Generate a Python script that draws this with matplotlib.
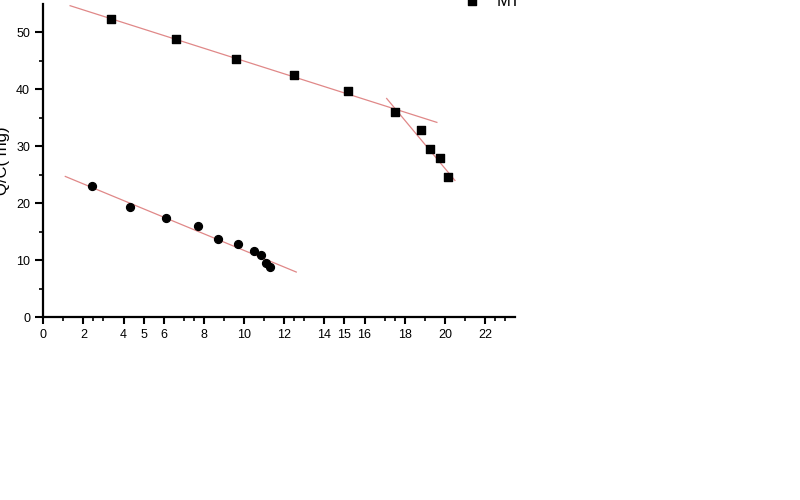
import matplotlib.pyplot as plt
import numpy as np

# MT series (squares)
mt_x = [3.38, 6.62, 9.6, 12.49, 15.17, 17.5, 18.8, 19.25, 19.75, 20.15]
mt_y = [52.3, 48.9, 45.4, 42.6, 39.8, 36.0, 32.8, 29.6, 27.9, 24.6]

# second series (circles)
c_x = [2.44, 4.33, 6.12, 7.71, 8.71, 9.70, 10.5, 10.85, 11.1, 11.3]
c_y = [23.0, 19.3, 17.4, 16.0, 13.7, 12.8, 11.6, 10.9, 9.5, 8.8]

# fitted lines (end points)
fit1_x = [1.34, 19.6]
fit1_y = [54.7, 34.2]
fit2_x = [17.1, 20.5]
fit2_y = [38.4, 24.0]
fit3_x = [1.1, 12.6]
fit3_y = [24.7, 7.9]

xticks = [0, 2, 4, 5, 6, 8, 10, 12, 14, 15, 16, 18, 20, 22]
xminor = [1, 2.5, 3, 7, 7.5, 9, 11, 12.5, 13, 17, 17.5, 19, 21, 22.5, 23]
yticks = [0, 10, 20, 30, 40, 50]
yminor = [5, 15, 25, 35, 45]

plt.rcParams['font.family'] = ['Liberation Sans', 'DejaVu Sans']

fig = plt.figure(figsize=(8, 5), dpi=100)
ax = fig.add_axes([0.054, 0.366, 0.59, 0.626])

line_col = '#e08888'
ax.plot(fit1_x, fit1_y, color=line_col, lw=0.9, zorder=1)
ax.plot(fit2_x, fit2_y, color=line_col, lw=0.9, zorder=1)
ax.plot(fit3_x, fit3_y, color=line_col, lw=0.9, zorder=1)

sq = ax.scatter(mt_x, mt_y, marker='s', s=30, color='black', zorder=3, label='MT')
ax.scatter(c_x, c_y, marker='o', s=32, color='black', zorder=3)

ax.set_xlim(0, 23.5)
ax.set_ylim(0, 55)
ax.set_xticks(xticks)
ax.set_xticks(xminor, minor=True)
ax.set_yticks(yticks)
ax.set_yticks(yminor, minor=True)
ax.tick_params(which='major', length=5, width=1.5, labelsize=9)
ax.tick_params(which='minor', length=3, width=1.2)
ax.tick_params(axis='y', which='major', length=6)

for s in ['top', 'right']:
    ax.spines[s].set_visible(False)
for s in ['left', 'bottom']:
    ax.spines[s].set_linewidth(1.6)

ax.set_ylabel('Q/C( mg)', fontsize=12, labelpad=4)

fig.legend(handles=[sq], labels=['MT'], loc='center left',
           bbox_to_anchor=(0.55, 0.998), frameon=False, fontsize=12,
           handletextpad=0.5)

plt.savefig('out.png', dpi=100)
